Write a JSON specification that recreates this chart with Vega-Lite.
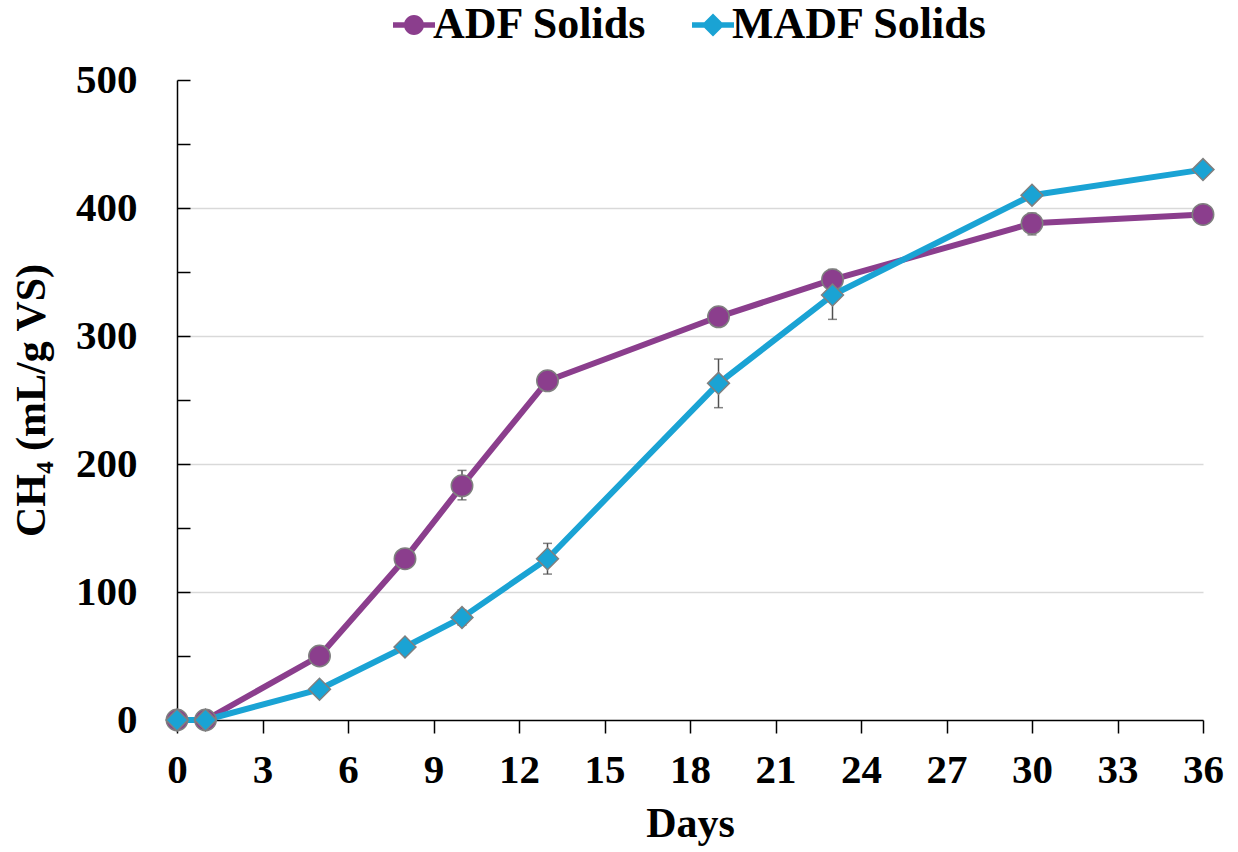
{
  "$schema": "https://vega.github.io/schema/vega-lite/v6.json",
  "width": 1026,
  "height": 640,
  "autosize": "none",
  "padding": {"left": 177, "top": 80, "right": 35, "bottom": 132},
  "background": "white",
  "config": {
    "view": {"stroke": null},
    "font": "Liberation Serif",
    "axis": {
      "labelFont": "Liberation Serif",
      "labelFontWeight": "bold",
      "labelFontSize": 41,
      "labelColor": "black",
      "titleFont": "Liberation Serif",
      "titleFontWeight": "bold",
      "titleFontSize": 42,
      "titleColor": "black",
      "domainColor": "black",
      "domainWidth": 1.5,
      "tickColor": "black",
      "tickWidth": 1.5
    }
  },
  "data": {
    "values": [
      {"series": "ADF Solids", "day": 0, "ch4": 0, "lo": 0, "hi": 0},
      {"series": "ADF Solids", "day": 1, "ch4": 0, "lo": 0, "hi": 0},
      {"series": "ADF Solids", "day": 5, "ch4": 50, "lo": 48, "hi": 52},
      {"series": "ADF Solids", "day": 8, "ch4": 126, "lo": 121, "hi": 131},
      {"series": "ADF Solids", "day": 10, "ch4": 183, "lo": 172, "hi": 195},
      {"series": "ADF Solids", "day": 13, "ch4": 265, "lo": 259, "hi": 271},
      {"series": "ADF Solids", "day": 19, "ch4": 315, "lo": 309, "hi": 321},
      {"series": "ADF Solids", "day": 23, "ch4": 344, "lo": 336, "hi": 352},
      {"series": "ADF Solids", "day": 30, "ch4": 388, "lo": 379, "hi": 396},
      {"series": "ADF Solids", "day": 36, "ch4": 395, "lo": 390, "hi": 400},
      {"series": "MADF Solids", "day": 0, "ch4": 0, "lo": 0, "hi": 0},
      {"series": "MADF Solids", "day": 1, "ch4": 0, "lo": 0, "hi": 0},
      {"series": "MADF Solids", "day": 5, "ch4": 24, "lo": 22, "hi": 26},
      {"series": "MADF Solids", "day": 8, "ch4": 57, "lo": 54, "hi": 60},
      {"series": "MADF Solids", "day": 10, "ch4": 80, "lo": 74, "hi": 86},
      {"series": "MADF Solids", "day": 13, "ch4": 126, "lo": 114, "hi": 138},
      {"series": "MADF Solids", "day": 19, "ch4": 263, "lo": 244, "hi": 282},
      {"series": "MADF Solids", "day": 23, "ch4": 332, "lo": 313, "hi": 350},
      {"series": "MADF Solids", "day": 30, "ch4": 410, "lo": 407, "hi": 413},
      {"series": "MADF Solids", "day": 36, "ch4": 430, "lo": 427, "hi": 433}
    ]
  },
  "encoding": {
    "x": {
      "field": "day",
      "type": "quantitative",
      "scale": {"domain": [0, 36], "nice": false, "zero": false},
      "axis": {
        "title": "Days",
        "values": [0, 3, 6, 9, 12, 15, 18, 21, 24, 27, 30, 33, 36],
        "grid": false,
        "tickSize": 13,
        "labelPadding": 17,
        "titlePadding": 13,
        "labelFlush": false
      }
    }
  },
  "layer": [
    {
      "mark": {"type": "line", "strokeWidth": 6, "strokeCap": "round", "strokeJoin": "round"},
      "encoding": {
        "y": {
          "field": "ch4",
          "type": "quantitative",
          "title": "CH₄ (mL/g VS)",
          "scale": {"domain": [0, 500], "nice": false},
          "axis": {
            "title": "CH₄ (mL/g VS)",
            "values": [0, 50, 100, 150, 200, 250, 300, 350, 400, 450, 500],
            "labelExpr": "datum.value % 100 === 0 ? datum.label : ''",
            "tickSize": -13,
            "labelPadding": 53,
            "titlePadding": 22,
            "grid": true,
            "gridColor": "#d9d9d9",
            "gridWidth": 1.5,
            "gridOpacity": {"condition": {"test": "datum.value % 100 === 0 && datum.value > 0 && datum.value < 500", "value": 1}, "value": 0}
          }
        },
        "color": {
          "field": "series",
          "type": "nominal",
          "scale": {"domain": ["ADF Solids", "MADF Solids"], "range": ["#8B3E8D", "#1AA3D4"]},
          "legend": {
            "title": null,
            "orient": "none",
            "direction": "horizontal",
            "legendX": 215,
            "legendY": -77,
            "padding": 0,
            "labelFont": "Liberation Serif",
            "labelFontWeight": "bold",
            "labelFontSize": 44,
            "labelColor": "black",
            "labelOffset": -3,
            "symbolSize": 400,
            "symbolOpacity": 1,
            "columnPadding": 44,
            "labelLimit": 500,
            "encode": {
              "symbols": {
                "update": {
                  "shape": {"signal": "datum.value === 'ADF Solids' ? 'M-2.1,-0.28H2.1V0.28H-2.1Z M-1,0A1,1 0 1,1 1,0A1,1 0 1,1 -1,0Z' : 'M-2.1,-0.28H2.1V0.28H-2.1Z M0,-1.15L1.15,0L0,1.15L-1.15,0Z'"},
                  "strokeWidth": {"value": 0}
                }
              }
            }
          }
        }
      }
    },
    {
      "mark": {
        "type": "errorbar",
        "color": "#505050",
        "ticks": {"size": 9, "thickness": 1.5, "color": "#505050"},
        "rule": {"strokeWidth": 1.5, "color": "#505050"}
      },
      "encoding": {
        "y": {"field": "lo", "type": "quantitative", "title": "CH₄ (mL/g VS)"},
        "y2": {"field": "hi"},
        "detail": {"field": "series"}
      }
    },
    {
      "transform": [{"filter": "datum.series === 'ADF Solids'"}],
      "mark": {"type": "point", "shape": "circle", "filled": true, "stroke": "#7F7F7F", "strokeWidth": 1.5, "opacity": 1, "size": 460},
      "encoding": {
        "y": {"field": "ch4", "type": "quantitative", "title": "CH₄ (mL/g VS)"},
        "color": {"field": "series", "type": "nominal"}
      }
    },
    {
      "transform": [{"filter": "datum.series === 'MADF Solids'"}],
      "mark": {"type": "point", "shape": "diamond", "filled": true, "stroke": "#7F7F7F", "strokeWidth": 1.5, "opacity": 1, "size": 480},
      "encoding": {
        "y": {"field": "ch4", "type": "quantitative", "title": "CH₄ (mL/g VS)"},
        "color": {"field": "series", "type": "nominal"}
      }
    }
  ]
}
